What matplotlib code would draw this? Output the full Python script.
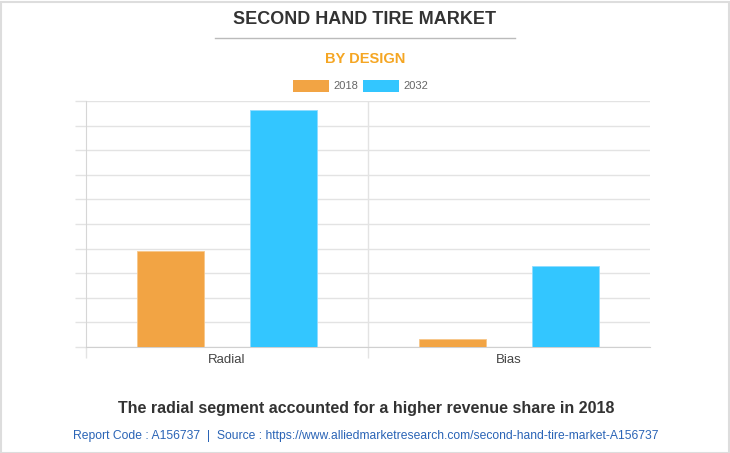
import matplotlib
matplotlib.use("Agg")
import matplotlib.pyplot as plt
from matplotlib.patches import Rectangle
from matplotlib.lines import Line2D
import numpy as np

plt.rcParams['font.family'] = ['Liberation Sans', 'DejaVu Sans']

categories = ["Radial", "Bias"]
series_names = ["2018", "2032"]
values_2018 = [3.9, 0.34]
values_2032 = [9.62, 3.31]
colors = ["#f2a444", "#33c6ff"]

W, H = 730, 453
fig = plt.figure(figsize=(W / 100, H / 100), dpi=100)
fig.patch.set_facecolor("white")

ax = fig.add_axes([86 / W, (H - 347) / H, (650 - 86) / W, (347 - 101) / H])
x = np.arange(len(categories))
bw = 0.24
off = 0.2
ax.bar(x - off, values_2018, bw, color=colors[0], edgecolor="#f7c78a", linewidth=0.6, zorder=3)
ax.bar(x + off, values_2032, bw, color=colors[1], edgecolor="#8fdcff", linewidth=0.6, zorder=3)

ax.set_xlim(-0.5, 1.5)
ax.set_ylim(0, 10)
ax.set_yticks(np.arange(0, 11, 1))
ax.set_yticklabels([])
ax.tick_params(axis='y', length=8, color="#e3e3e3", width=1)
ax.yaxis.grid(True, color="#e3e3e3", linewidth=1, zorder=0)
ax.set_xticks([-0.5, 0.5])
ax.set_xticklabels([])
ax.tick_params(axis='x', length=8, color="#e3e3e3", width=1)
ax.set_xticks(x, minor=True)
ax.set_xticklabels(categories, minor=True, fontsize=9.5, color="#444444")
ax.tick_params(axis='x', which='minor', length=0, pad=5)
ax.axvline(0.5, color="#e3e3e3", linewidth=1, zorder=0)
for s in ["top", "right"]:
    ax.spines[s].set_visible(False)
ax.spines["left"].set_color("#d6d6d6")
ax.spines["bottom"].set_color("#d0d0d0")
ax.set_facecolor("white")

# titles
fig.text(365 / W, 1 - 20 / H, "SECOND HAND TIRE MARKET", ha="center", va="center",
         fontsize=13, fontweight="bold", color="#333333")
fig.add_artist(Line2D([215 / W, 515 / W], [1 - 37.5 / H, 1 - 37.5 / H], color="#bbbbbb", linewidth=1))
fig.text(365 / W, 1 - 59 / H, "BY DESIGN", ha="center", va="center",
         fontsize=10.5, fontweight="bold", color="#f5a623")

# legend
ly = 1 - 86 / H
for i, (name, c) in enumerate(zip(series_names, colors)):
    x0 = [293, 363][i]
    fig.add_artist(Rectangle((x0 / W, ly - 6 / H), 36 / W, 12 / H, facecolor=c, edgecolor="none"))
    fig.text((x0 + 40) / W, ly, name, ha="left", va="center", fontsize=8, color="#666666")

fig.text(366 / W, 1 - 408 / H, "The radial segment accounted for a higher revenue share in 2018",
         ha="center", va="center", fontsize=11.5, fontweight="bold", color="#333333")
fig.text(365.5 / W, 1 - 436 / H,
         "Report Code : A156737  |  Source : https://www.alliedmarketresearch.com/second-hand-tire-market-A156737",
         ha="center", va="center", fontsize=8.7, color="#2a64b6")

fig.add_artist(Rectangle((0.5 / W, 0.5 / H), (W - 2) / W, (H - 2) / H, fill=False,
                         edgecolor="#dddddd", linewidth=1.5))

fig.savefig("out.png", dpi=100, facecolor="white")
